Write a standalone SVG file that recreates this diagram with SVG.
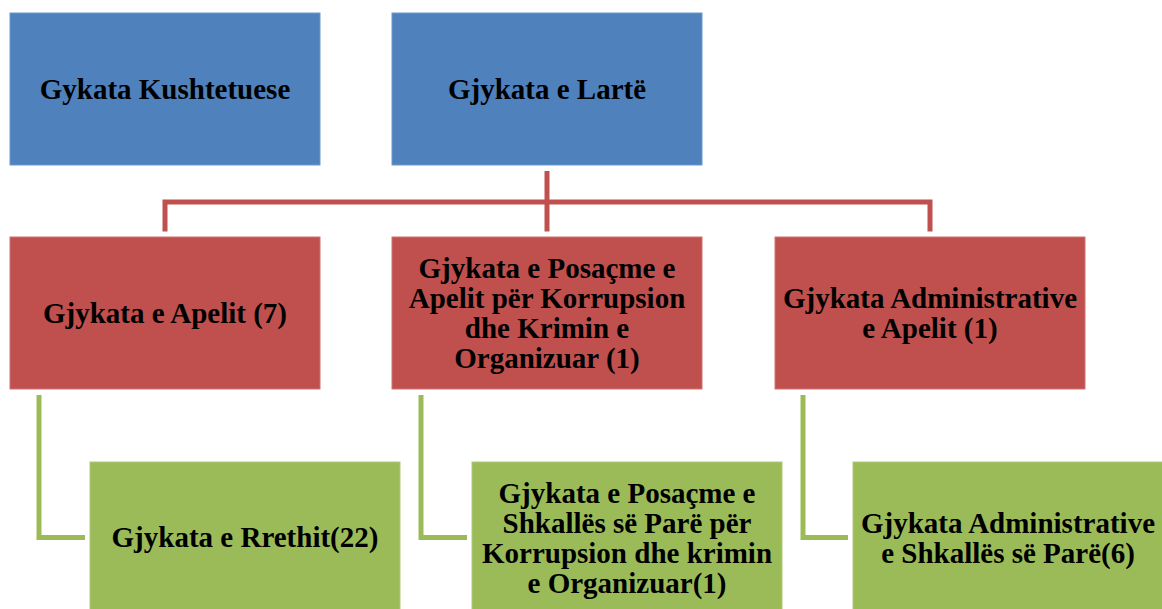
<svg xmlns="http://www.w3.org/2000/svg" width="1162" height="609" viewBox="0 0 1162 609">
<style>
  .t { font-family: "Liberation Serif", "Times New Roman", serif; font-weight: bold; font-size: 29px; fill: #000; text-anchor: middle; }
  .blue { fill: #4F81BD; stroke: #6E98CC; stroke-width: 1; }
  .red { fill: #C0504D; stroke: #CF7370; stroke-width: 1; }
  .green { fill: #9BBB59; stroke: #AFC97A; stroke-width: 1; }
  .cr { fill: none; stroke: #C0504D; stroke-width: 5; }
  .cg { fill: none; stroke: #9BBB59; stroke-width: 5; }
</style>
<rect width="1162" height="609" fill="#FFFFFF"/>
<g id="connectors">
  <path class="cr" d="M547 171 V231.5"/>
  <path class="cr" d="M165 231.5 V202 H930 V231.5"/>
  <path class="cg" d="M39 395 V537.5 H85"/>
  <path class="cg" d="M421 395 V537.5 H467"/>
  <path class="cg" d="M803 395 V537.5 H848"/>
</g>
<g id="kushtetuese">
  <rect class="blue" x="10" y="13" width="310" height="152"/>
  <text class="t" x="165" y="99">Gykata Kushtetuese</text>
</g>
<g id="larte">
  <rect class="blue" x="392" y="13" width="310" height="152"/>
  <text class="t" x="547" y="99">Gjykata e Lartë</text>
</g>
<g id="apelit">
  <rect class="red" x="10" y="237" width="310" height="152"/>
  <text class="t" x="165" y="323">Gjykata e Apelit (7)</text>
</g>
<g id="posacme-apelit">
  <rect class="red" x="392" y="237" width="310" height="152"/>
  <text class="t" x="547" y="277.5">Gjykata e Posaçme e</text>
  <text class="t" x="547" y="307.5">Apelit për Korrupsion</text>
  <text class="t" x="547" y="337.5">dhe Krimin e</text>
  <text class="t" x="547" y="367.5">Organizuar (1)</text>
</g>
<g id="administrative-apelit">
  <rect class="red" x="775" y="237" width="310" height="152"/>
  <text class="t" x="930" y="307.5">Gjykata Administrative</text>
  <text class="t" x="930" y="337.5">e Apelit (1)</text>
</g>
<g id="rrethit">
  <rect class="green" x="90" y="462" width="310" height="152"/>
  <text class="t" x="245" y="547">Gjykata e Rrethit(22)</text>
</g>
<g id="posacme-shkalles">
  <rect class="green" x="472" y="462" width="310" height="152"/>
  <text class="t" x="627" y="502.5">Gjykata e Posaçme e</text>
  <text class="t" x="627" y="532.5">Shkallës së Parë për</text>
  <text class="t" x="627" y="562.5">Korrupsion dhe krimin</text>
  <text class="t" x="627" y="592.5">e Organizuar(1)</text>
</g>
<g id="administrative-shkalles">
  <rect class="green" x="853" y="462" width="310" height="152"/>
  <text class="t" x="1008" y="532.5">Gjykata Administrative</text>
  <text class="t" x="1008" y="562.5">e Shkallës së Parë(6)</text>
</g>
</svg>
